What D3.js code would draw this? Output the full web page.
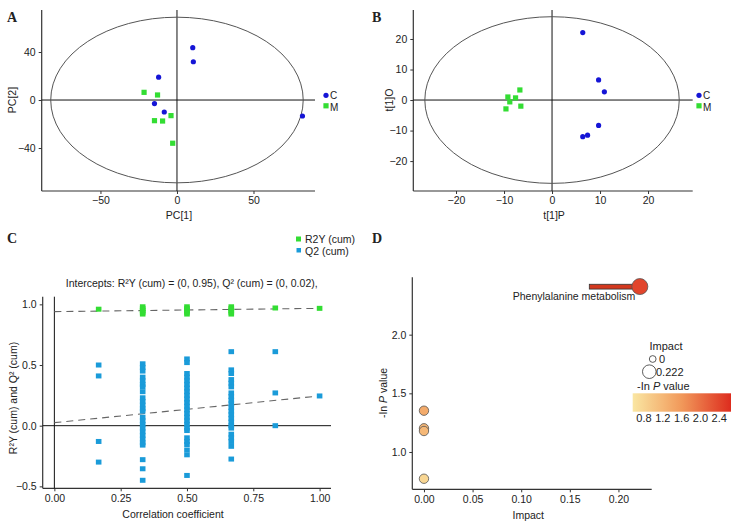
<!DOCTYPE html>
<html><head><meta charset="utf-8">
<script src="https://cdn.jsdelivr.net/npm/d3@7"></script>
<style>
body{margin:0;background:#fff;}
svg text{font-family:"Liberation Sans",Arial,sans-serif;fill:#222;}
.tick text{font-size:10.5px;}
.lbl{font-size:10.5px;}
.letter{font-family:"Liberation Serif","Times New Roman",serif !important;font-weight:bold;font-size:14px;}
</style></head><body>
<script>
// ---------- DATA ----------
// Panel A: PCA scores
const pcaC = [[10.3,43.6],[10.7,31.9],[-12,19],[-14.7,-3],[-8.3,-10],[82,-13.3]];
const pcaM = [[-21.5,6.4],[-12.7,4.2],[-14.7,-17.2],[-9.4,-17.5],[-3.9,-13],[-2.8,-36]];
const pcaEllipse = [82.5, 69];
const pcaXTicks = [-50,0,50], pcaYTicks = [-40,0,40];
// Panel B: OPLS-DA scores
const oplsC = [[6.4,22.1],[9.7,6.6],[10.9,2.7],[9.7,-8.3],[7.4,-11.5],[6.4,-12]];
const oplsM = [[-6.7,3.3],[-9.2,1],[-7.6,0.7],[-8.8,-0.6],[-9.6,-2.9],[-6.5,-2.0]];
const oplsEllipse = [26.5, 27.3];
const oplsXTicks = [-20,-10,0,10,20], oplsYTicks = [-20,-10,0,10,20];
// Panel C: permutation test
const permX = [0.167, 0.333, 0.5, 0.667, 0.833, 1.0];
const r2Y = [
  [0.96],
  [0.98,0.965,0.95,0.935,0.92],
  [0.98,0.965,0.95,0.935,0.92],
  [0.98,0.965,0.95,0.935,0.92],
  [0.97],
  [0.967]
];
const q2 = [
  [0.50,0.41,-0.13,-0.30],
  [0.51,0.48,0.45,0.40,0.37,0.34,0.32,0.28,0.23,0.20,0.17,0.14,0.12,0.07,0.04,0.01,-0.02,-0.05,-0.08,-0.11,-0.14,-0.16,-0.28,-0.355,-0.45],
  [0.55,0.52,0.43,0.40,0.37,0.34,0.31,0.28,0.25,0.22,0.19,0.16,0.13,0.10,0.07,0.04,0.01,-0.02,-0.04,-0.10,-0.13,-0.155,-0.20,-0.24,-0.41],
  [0.61,0.46,0.43,0.38,0.35,0.32,0.27,0.24,0.21,0.18,0.15,0.12,0.09,0.06,0.03,0.0,-0.02,-0.07,-0.10,-0.13,-0.17,-0.275],
  [0.61,0.27,0.0],
  [0.245]
];
const r2Line = [[0,0.94],[1,0.967]];
const q2Line = [[0,0.025],[1,0.245]];
const permXTicks = [0,0.25,0.5,0.75,1.0], permYTicks = [-0.5,0,0.5,1.0];
// Panel D: pathway analysis
const pathNames = ["Phenylalanine metabolism","","","",""];
const pathImpact = [0.222,0,0,0,0];
const pathNegLogP = [2.41,1.352,1.202,1.179,0.772];
const pathXTicks = [0,0.05,0.1,0.15,0.2], pathYTicks = [1.0,1.5,2.0];
const colorTicks = [0.8,1.2,1.6,2.0,2.4];
const impactLegend = [0, 0.222];

// ---------- DRAW ----------
const svg = d3.select("body").append("svg").attr("width",742).attr("height",528);
const AX="#333";

function axes(g, x, y, xt, yt, xf, yf){
  const [x0,x1]=x.range(), [y0,y1]=y.range();
  g.append("g").attr("transform",`translate(0,${y0})`)
    .call(d3.axisBottom(x).tickValues(xt).tickSize(3).tickPadding(3).tickFormat(xf))
    .call(s=>{s.select(".domain").remove(); s.selectAll("line").attr("stroke",AX);});
  g.append("g").attr("transform",`translate(${x0},0)`)
    .call(d3.axisLeft(y).tickValues(yt).tickSize(3).tickPadding(3).tickFormat(yf))
    .call(s=>{s.select(".domain").remove(); s.selectAll("line").attr("stroke",AX);});
  g.append("line").attr("x1",x0).attr("x2",x1).attr("y1",y0).attr("y2",y0).attr("stroke",AX).attr("stroke-width",1.2);
  g.append("line").attr("x1",x0).attr("x2",x0).attr("y1",y0).attr("y2",y1).attr("stroke",AX).attr("stroke-width",1.2);
}
function zeroLines(g,x,y){
  const [x0,x1]=x.range(), [y0,y1]=y.range();
  g.append("line").attr("x1",x0).attr("x2",x1).attr("y1",y(0)).attr("y2",y(0)).attr("stroke","#111");
  g.append("line").attr("x1",x(0)).attr("x2",x(0)).attr("y1",y0).attr("y2",y1).attr("stroke","#111");
}
const BLUE="#1515d6", GREEN="#33dd33";
function scoresPanel(g,x,y,C,M,ell,xt,yt,xl,yl,ylx,legX){
  axes(g,x,y,xt,yt,d3.format("d"),d3.format("d"));
  zeroLines(g,x,y);
  g.append("ellipse").attr("cx",x(0)).attr("cy",y(0))
    .attr("rx",x(ell[0])-x(0)).attr("ry",y(0)-y(ell[1]))
    .attr("fill","none").attr("stroke","#555").attr("stroke-width",1);
  g.selectAll(".m").data(M).join("rect").attr("x",d=>x(d[0])-2.6).attr("y",d=>y(d[1])-2.6)
    .attr("width",5.2).attr("height",5.2).attr("fill",GREEN);
  g.selectAll(".c").data(C).join("circle").attr("cx",d=>x(d[0])).attr("cy",d=>y(d[1])).attr("r",2.6).attr("fill",BLUE);
  // legend
  g.append("circle").attr("cx",legX).attr("cy",95.3).attr("r",2.6).attr("fill",BLUE);
  g.append("text").attr("class","lbl").attr("x",legX+4).attr("y",99).style("font-size","10px").text("C");
  g.append("rect").attr("x",legX-2.6).attr("y",103.2).attr("width",5.2).attr("height",5.2).attr("fill",GREEN);
  g.append("text").attr("class","lbl").attr("x",legX+4).attr("y",110.5).style("font-size","10px").text("M");
  g.append("text").attr("class","lbl").attr("x",x(0)+2).attr("y",219).attr("text-anchor","middle").text(xl);
  g.append("text").attr("class","lbl").attr("transform",`translate(${ylx},${y(0)}) rotate(-90)`).attr("text-anchor","middle").text(yl);
}

// Panel A
const xA=d3.scaleLinear().domain([-88.4,90.2]).range([41.7,315]);
const yA=d3.scaleLinear().domain([-75.8,75]).range([191,10]);
scoresPanel(svg.append("g"),xA,yA,pcaC,pcaM,pcaEllipse,pcaXTicks,pcaYTicks,"PC[1]","PC[2]",16,326);
// Panel B
const xB=d3.scaleLinear().domain([-28.9,29.3]).range([413.3,692.7]);
const yB=d3.scaleLinear().domain([-29.8,29.5]).range([191,10]);
scoresPanel(svg.append("g"),xB,yB,oplsC,oplsM,oplsEllipse,oplsXTicks,oplsYTicks,"t[1]P","t[1]O",393,699);

// Panel C
const gC=svg.append("g");
const xC=d3.scaleLinear().domain([-0.044,1.043]).range([42.7,331]);
const yC=d3.scaleLinear().domain([-0.516,1.063]).range([488.3,296.7]);
axes(gC,xC,yC,permXTicks,permYTicks,d3.format(".2f"),d3.format(".1f"));
zeroLines(gC,xC,yC);
gC.append("line").attr("x1",xC(q2Line[0][0])).attr("y1",yC(q2Line[0][1])).attr("x2",xC(q2Line[1][0])).attr("y2",yC(q2Line[1][1]))
  .attr("stroke","#666").attr("stroke-dasharray","7,5").attr("stroke-width",1.1);
gC.append("line").attr("x1",xC(r2Line[0][0])).attr("y1",yC(r2Line[0][1])).attr("x2",xC(r2Line[1][0])).attr("y2",yC(r2Line[1][1]))
  .attr("stroke","#666").attr("stroke-dasharray","7,5").attr("stroke-width",1.1);
const QBLUE="#1a9bd9";
permX.forEach((px,i)=>{
  gC.selectAll(null).data(q2[i]).join("rect").attr("x",xC(px)-2.8).attr("y",d=>yC(d)-2.5)
    .attr("width",5.6).attr("height",5).attr("fill",QBLUE);
  gC.selectAll(null).data(r2Y[i]).join("rect").attr("x",xC(px)-2.8).attr("y",d=>yC(d)-2.5)
    .attr("width",5.6).attr("height",5).attr("fill",GREEN);
});
gC.append("text").attr("class","lbl").attr("x",191.7).attr("y",287).attr("text-anchor","middle")
  .text("Intercepts: R\u00B2Y (cum) = (0, 0.95), Q\u00B2 (cum) = (0, 0.02),");
gC.append("text").attr("class","lbl").attr("x",173).attr("y",518).attr("text-anchor","middle").text("Correlation coefficient");
gC.append("text").attr("class","lbl").attr("transform","translate(17,398) rotate(-90)").attr("text-anchor","middle")
  .text("R\u00B2Y (cum) and Q\u00B2 (cum)");
// legend C
gC.append("rect").attr("x",296).attr("y",236.5).attr("width",5).attr("height",5).attr("fill",GREEN);
gC.append("text").attr("class","lbl").attr("x",305).attr("y",243).text("R2Y (cum)");
gC.append("rect").attr("x",296.5).attr("y",248).attr("width",4.5).attr("height",4.5).attr("fill",QBLUE);
gC.append("text").attr("class","lbl").attr("x",305).attr("y",255).text("Q2 (cum)");

// Panel D
const gD=svg.append("g");
const xD=d3.scaleLinear().domain([-0.012,0.2342]).range([412.3,651.7]);
const yD=d3.scaleLinear().domain([0.682,2.489]).range([489.3,277.3]);
axes(gD,xD,yD,pathXTicks,pathYTicks,d3.format(".2f"),d3.format(".1f"));
const color=d3.scaleLinear().domain([0.56,1.6,2.65]).range(["#fae6a2","#f1995a","#dd2c1e"]);
const rS=d3.scaleLinear().domain([0,0.222]).range([4.7,8]);
const pts=pathImpact.map((v,i)=>({x:v,y:pathNegLogP[i],name:pathNames[i]}));
// label bar for named pathway
pts.filter(d=>d.name).forEach(d=>{
  gD.append("rect").attr("x",589.3).attr("y",yD(d.y)-2.3).attr("width",xD(d.x)-589.3).attr("height",4.8)
    .attr("fill","#d2381e").attr("stroke","#333").attr("stroke-width",0.8);
  gD.append("text").attr("class","lbl").attr("x",574).attr("y",yD(d.y)+13).attr("text-anchor","middle").text(d.name);
});
gD.selectAll(".p").data(pts).join("circle").attr("cx",d=>xD(d.x)).attr("cy",d=>yD(d.y)).attr("r",d=>rS(d.x))
  .attr("fill",d=>color(d.y)).attr("stroke","#555").attr("stroke-width",0.8);
gD.append("text").attr("class","lbl").attr("x",528.3).attr("y",519).attr("text-anchor","middle").text("Impact");
const yl=gD.append("text").attr("class","lbl").attr("transform","translate(387,393) rotate(-90)").attr("text-anchor","middle");
yl.append("tspan").text("-In ");
yl.append("tspan").style("font-style","italic").text("P");
yl.append("tspan").text(" value");
// legend D
gD.append("text").attr("class","lbl").attr("x",649.5).attr("y",350).style("font-size","11px").text("Impact");
const legR=[[652.7,359,"0",659],[649.3,371.7,"0.222",656]];
impactLegend.forEach((v,i)=>{
  gD.append("circle").attr("cx",legR[i][0]).attr("cy",legR[i][1]).attr("r",rS(v)*(i?0.85:0.72))
    .attr("fill","none").attr("stroke","#333").attr("stroke-width",0.8);
  gD.append("text").attr("class","lbl").attr("x",legR[i][3]).attr("y",legR[i][1]+4).style("font-size","11px").text(legR[i][2]);
});
const lt=gD.append("text").attr("class","lbl").attr("x",637).attr("y",390).style("font-size","11px");
lt.append("tspan").text("-In ");
lt.append("tspan").style("font-style","italic").text("P");
lt.append("tspan").text(" value");
const cb=d3.scaleLinear().domain([0.56,2.65]).range([632.7,731]);
const grad=svg.append("defs").append("linearGradient").attr("id","cbg");
d3.range(0,1.0001,0.1).forEach(t=>{
  grad.append("stop").attr("offset",t).attr("stop-color",color(0.56+t*(2.65-0.56)));
});
gD.append("rect").attr("x",cb(0.56)).attr("y",393.3).attr("width",cb(2.65)-cb(0.56)).attr("height",18.4).attr("fill","url(#cbg)");
gD.selectAll(".ct").data(colorTicks).join("text").attr("class","lbl").attr("x",d=>cb(d)).attr("y",422)
  .attr("text-anchor","middle").style("font-size","11px").text(d=>d3.format(".1f")(d));

// panel letters
[["A",7,22],["B",372,22],["C",7,243],["D",372,243]].forEach(([t,x,y])=>{
  svg.append("text").attr("class","letter").attr("x",x).attr("y",y).text(t);
});
</script>
</body></html>
